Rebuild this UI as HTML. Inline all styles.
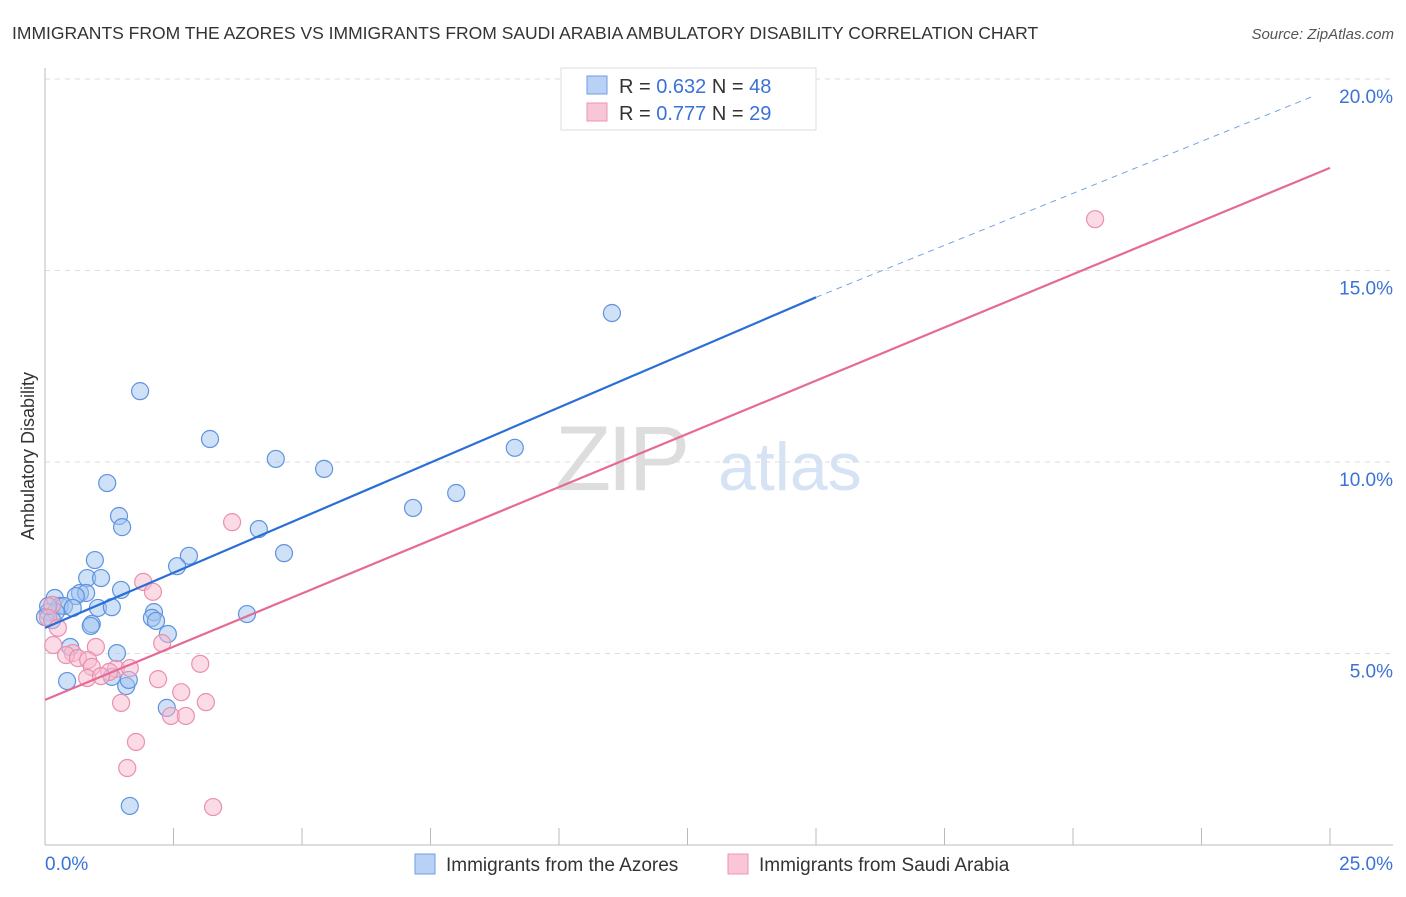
<!DOCTYPE html>
<html><head><meta charset="utf-8"><style>
body{margin:0;background:#fff;font-family:"Liberation Sans",sans-serif}
svg text{font-family:"Liberation Sans",sans-serif}
</style></head><body>
<svg id="chart" width="1406" height="892" xmlns="http://www.w3.org/2000/svg">
<text x="12" y="39" font-size="17.5" fill="#333">IMMIGRANTS FROM THE AZORES VS IMMIGRANTS FROM SAUDI ARABIA AMBULATORY DISABILITY CORRELATION CHART</text>
<text x="1394" y="39" font-size="15" fill="#555" text-anchor="end" font-style="italic">Source: ZipAtlas.com</text>
<g>
<text x="555" y="490" font-size="92" fill="#ddd" font-family="Liberation Serif" letter-spacing="-4">ZIP</text>
<text x="718" y="490" font-size="68" fill="#d5e3f5">atlas</text>
</g>
<g id="grid"></g>
<g id="axes"></g>
<g id="marks"></g>
<g>
<rect x="561" y="68" width="255" height="62" fill="#fff" stroke="#ddd"/>
<rect x="587" y="76" width="20" height="18" fill="#b8d1f5" stroke="#6f9ee6"/>
<rect x="587" y="103" width="20" height="18" fill="#f9c6d6" stroke="#ec95b1"/>
<text x="619" y="93" font-size="20" fill="#333">R = <tspan fill="#3a72d8">0.632</tspan>   N = <tspan fill="#3a72d8">48</tspan></text>
<text x="619" y="120" font-size="20" fill="#333">R = <tspan fill="#3a72d8">0.777</tspan>   N = <tspan fill="#3a72d8">29</tspan></text>
</g>
<g>
<rect x="415" y="854" width="20" height="20" fill="#b8d1f5" stroke="#6f9ee6"/>
<text x="446" y="871" font-size="19" fill="#333">Immigrants from the Azores</text>
<rect x="728" y="854" width="20" height="20" fill="#f9c6d6" stroke="#ec95b1"/>
<text x="759" y="871" font-size="19" fill="#333">Immigrants from Saudi Arabia</text>
</g>
<text transform="translate(34,456) rotate(-90)" font-size="18" fill="#333" text-anchor="middle">Ambulatory Disability</text>
</svg>
<script>
const blueX=[1.85,3.21,4.49,5.43,1.21,1.44,1.50,4.16,2.80,4.65,0.97,2.57,0.82,1.09,1.48,0.68,0.80,0.60,0.19,0.29,0.37,0.54,1.03,1.30,0.06,0.21,0.00,0.14,2.12,2.08,2.16,2.39,0.91,0.89,3.93,0.49,1.40,0.43,1.30,1.58,1.63,2.37,1.65,7.16,8.00,9.14,11.03,0.06];
const blueY=[11.85,10.60,10.08,9.82,9.45,8.59,8.30,8.25,7.55,7.62,7.44,7.28,6.97,6.97,6.66,6.58,6.58,6.50,6.45,6.24,6.24,6.19,6.19,6.21,6.08,6.08,5.95,5.87,6.08,5.93,5.85,5.51,5.77,5.72,6.03,5.17,5.01,4.28,4.39,4.15,4.31,3.58,1.02,8.80,9.19,10.37,13.89,6.24];
const pinkX=[20.43,3.64,1.91,2.10,0.14,0.06,0.25,0.16,2.28,0.99,0.54,0.41,0.64,0.84,0.91,1.38,1.65,1.25,0.82,1.09,3.02,2.20,2.65,1.48,3.13,2.45,2.74,1.77,1.60,3.27];
const pinkY=[16.34,8.43,6.87,6.61,6.27,5.93,5.67,5.22,5.27,5.17,5.01,4.96,4.88,4.83,4.65,4.60,4.62,4.52,4.36,4.41,4.73,4.33,3.99,3.71,3.73,3.37,3.37,2.69,2.01,0.99];
const blueLine=[5.67,14.3,19.55]; // y at x=0, x=15, x=24.67
const pinkLine=[3.79,17.68];       // y at x=0, x=25
const yTicks=[5,10,15,20];
const yTickLabels=["5.0%","10.0%","15.0%","20.0%"];
const xTicks=[0,2.5,5,7.5,10,12.5,15,17.5,20,22.5,25];
const NS="http://www.w3.org/2000/svg";
const sx=v=>45+v*51.4, sy=v=>845-v*38.3;
function mk(tag,attrs,parent){const e=document.createElementNS(NS,tag);for(const k in attrs)e.setAttribute(k,attrs[k]);document.getElementById(parent).appendChild(e);return e;}
yTicks.forEach((t,i)=>{
 const g=mk('line',{x1:45,x2:1393,y1:sy(t),y2:sy(t),stroke:'#ddd','stroke-dasharray':'5,5'},'grid');
 
 
 const l=mk('text',{x:1393,y:sy(t)+24,'font-size':19,fill:'#3a72d8','text-anchor':'end'},'axes');
 l.textContent=yTickLabels[i];
 
 
});
const ax=mk('line',{x1:45,x2:45,y1:68,y2:845,stroke:'#bbb'},'axes');


const bx=mk('line',{x1:45,x2:1393,y1:845,y2:845,stroke:'#bbb'},'axes');


xTicks.forEach(t=>{
 const tk=mk('line',{x1:sx(t),x2:sx(t),y1:828,y2:845,stroke:'#bbb'},'axes');
 
 
});
const x0=mk('text',{x:45,y:870,'font-size':19,fill:'#3a72d8'},'axes');x0.textContent='0.0%';


const x1=mk('text',{x:1393,y:870,'font-size':19,fill:'#3a72d8','text-anchor':'end'},'axes');x1.textContent='25.0%';


blueX.forEach((x,i)=>{
 const c=mk('circle',{cx:sx(x),cy:sy(blueY[i]),r:8.5,fill:'rgba(160,195,240,0.5)',stroke:'#5f93e0','stroke-width':1.2},'marks');
 
 
});
pinkX.forEach((x,i)=>{
 const c=mk('circle',{cx:sx(x),cy:sy(pinkY[i]),r:8.5,fill:'rgba(248,185,205,0.5)',stroke:'#eb8fae','stroke-width':1.2},'marks');
 
 
});
const bl=mk('line',{x1:sx(0),y1:sy(blueLine[0]),x2:sx(15),y2:sy(blueLine[1]),stroke:'#2a6fd6','stroke-width':2.2},'marks');


const bd=mk('line',{x1:sx(15),y1:sy(blueLine[1]),x2:sx(24.67),y2:sy(blueLine[2]),stroke:'#6f9ee6','stroke-width':1,'stroke-dasharray':'6,5'},'marks');


const pl=mk('line',{x1:sx(0),y1:sy(pinkLine[0]),x2:sx(25),y2:sy(pinkLine[1]),stroke:'#e56a95','stroke-width':2.2},'marks');


</script>
</body></html>
